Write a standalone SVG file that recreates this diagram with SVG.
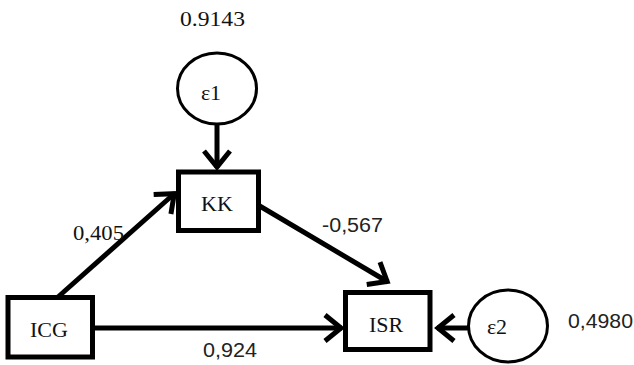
<svg xmlns="http://www.w3.org/2000/svg" width="634" height="365" viewBox="0 0 634 365">
  <defs>
    <marker id="chev" markerUnits="userSpaceOnUse" markerWidth="40" markerHeight="40" viewBox="-20 -20 40 40" refX="0" refY="0" orient="auto" overflow="visible">
      <path d="M-17,-13 L-1,0 L-17,13" fill="none" stroke="#000" stroke-width="5" stroke-linejoin="miter" stroke-linecap="butt"/>
    </marker>
  </defs>
  <style>
    .box { fill: #fff; stroke: #000; stroke-width: 5; }
    .err { fill: #fff; stroke: #000; stroke-width: 3; }
    .edge { fill: none; stroke: #000; stroke-width: 5; marker-end: url(#chev); }
    .serif { font-family: "Liberation Serif", "Times New Roman", serif; font-size: 22px; fill: #111; }
    .sans { font-family: "Liberation Sans", Arial, sans-serif; font-size: 20px; fill: #222; }
  </style>
  <rect width="634" height="365" fill="#fff"/>

  <!-- path connectors -->
  <g id="connectors">
    <line class="edge" x1="217" y1="124" x2="217" y2="168"/>
    <line class="edge" x1="58" y1="297" x2="175" y2="193"/>
    <line class="edge" x1="258" y1="205" x2="388" y2="282"/>
    <line class="edge" x1="93" y1="328" x2="342" y2="328"/>
    <line class="edge" x1="468" y1="328" x2="437" y2="328"/>
  </g>

  <!-- error term e1 on KK -->
  <g id="e1">
    <ellipse class="err" cx="217" cy="88.5" rx="39.5" ry="35.5"/>
    <text class="serif" x="211" y="100" text-anchor="middle" font-size="23">ε1</text>
  </g>

  <g id="KK">
    <rect class="box" x="178.5" y="172" width="80" height="58.5"/>
    <text class="serif" x="217" y="211" text-anchor="middle" font-size="24">KK</text>
  </g>

  <g id="ICG">
    <rect class="box" x="8" y="297.5" width="84.5" height="59.5"/>
    <text class="serif" x="49" y="337" text-anchor="middle" font-size="23">ICG</text>
  </g>

  <g id="ISR">
    <rect class="box" x="345.5" y="292.5" width="84.5" height="57"/>
    <text class="serif" x="386" y="332" text-anchor="middle" font-size="24">ISR</text>
  </g>

  <!-- error term e2 on ISR -->
  <g id="e2">
    <ellipse class="err" cx="508" cy="326" rx="39.5" ry="36"/>
    <text class="serif" x="497" y="334" text-anchor="middle" font-size="23">ε2</text>
  </g>

  <!-- coefficients -->
  <g id="labels">
    <text class="serif" x="180" y="26" textLength="65" lengthAdjust="spacingAndGlyphs">0.9143</text>
    <text class="serif" x="73" y="240" textLength="51" lengthAdjust="spacingAndGlyphs">0,405</text>
    <text class="sans" x="322" y="232" textLength="61" lengthAdjust="spacingAndGlyphs">-0,567</text>
    <text class="sans" x="203" y="357" textLength="54" lengthAdjust="spacingAndGlyphs">0,924</text>
    <text class="sans" x="568" y="328" textLength="65" lengthAdjust="spacingAndGlyphs">0,4980</text>
  </g>
</svg>
